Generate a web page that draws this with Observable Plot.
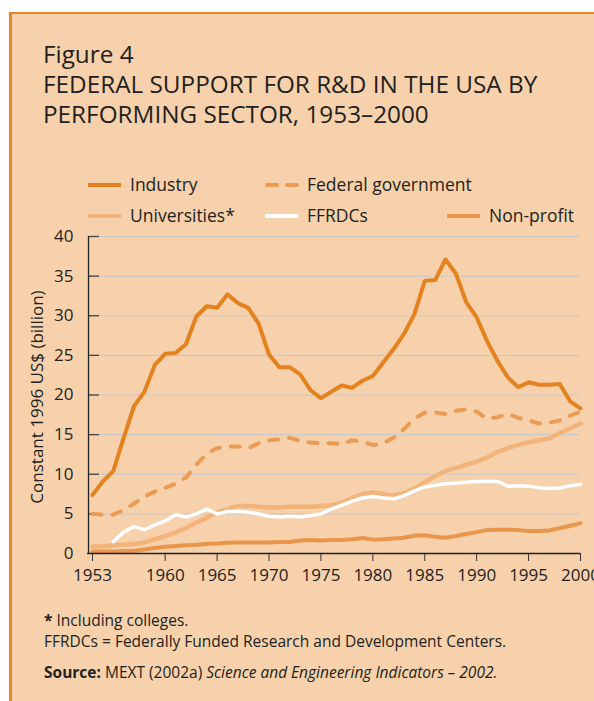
<!DOCTYPE html>
<html><head><meta charset="utf-8">
<script src="https://cdn.jsdelivr.net/npm/d3@7"></script>
<script src="https://cdn.jsdelivr.net/npm/@observablehq/plot@0.6"></script>
<style>
html,body{margin:0;padding:0;background:#fff;}
body{width:594px;height:701px;position:relative;overflow:hidden;font-family:"Open Sans",sans-serif;color:#231f20;}
#panel{position:absolute;left:9px;top:12px;right:0;bottom:0;background:#f6d1ab;border-left:3px solid #e8852b;border-top:2px solid #e8852b;}
.t{position:absolute;white-space:nowrap;}
#chart{position:absolute;left:0;top:226px;}
#ylab{position:absolute;left:36px;top:397px;transform:translate(-50%,-50%) rotate(-90deg);font-size:17px;white-space:nowrap;}
.lg{position:absolute;font-size:17.5px;line-height:20px;white-space:nowrap;}
.sw{position:absolute;overflow:visible;}
</style></head><body>
<div id="panel"></div>
<div class="t" style="left:43px;top:39px;font-size:24.3px;line-height:30px;">Figure 4<br>FEDERAL SUPPORT FOR R&amp;D IN THE USA BY<br>PERFORMING SECTOR, 1953–2000</div>
<div id="legend"></div>
<div id="ylab">Constant 1996 US$ (billion)</div>
<div id="chart"></div>
<div class="t" style="left:44px;top:610px;font-size:15.5px;line-height:21px;"><b>*</b> Including colleges.<br>FFRDCs = Federally Funded Research and Development Centers.</div>
<div class="t" style="left:44px;top:662px;font-size:15.5px;line-height:21px;"><b>Source:</b> MEXT (2002a) <i>Science and Engineering Indicators – 2002.</i></div>
<script>
const years = d3.range(1953, 2001);
const industry = [7.4,9.1,10.4,14.6,18.6,20.4,23.8,25.2,25.3,26.4,29.9,31.2,31.0,32.7,31.6,31.0,29.0,25.1,23.5,23.5,22.6,20.6,19.6,20.4,21.2,20.9,21.8,22.4,24.1,25.8,27.7,30.2,34.4,34.5,37.1,35.3,31.7,29.8,26.8,24.3,22.2,21.0,21.6,21.3,21.3,21.4,19.2,18.3];
const federalGov = [5.0,4.9,4.9,5.5,6.3,7.2,7.8,8.3,8.8,9.6,11.2,12.6,13.3,13.5,13.5,13.3,13.9,14.3,14.4,14.6,14.2,14.0,13.9,13.9,13.8,14.3,14.1,13.7,13.9,14.6,15.7,17.0,17.8,17.8,17.6,18.0,18.2,17.9,17.0,17.2,17.6,17.1,16.8,16.4,16.5,16.8,17.4,17.9];
const universities = [0.85,0.9,1.0,1.1,1.2,1.4,1.8,2.2,2.65,3.2,3.9,4.5,5.2,5.6,6.0,6.0,5.9,5.8,5.8,5.9,5.9,5.9,6.0,6.1,6.4,7.0,7.5,7.7,7.5,7.3,7.6,8.2,9.0,9.8,10.4,10.8,11.2,11.6,12.1,12.8,13.3,13.7,14.0,14.3,14.5,15.2,15.8,16.4];
const ffrdcs = [null,null,1.5,2.7,3.4,3.0,3.6,4.1,4.9,4.6,5.0,5.6,5.0,5.3,5.3,5.2,5.0,4.7,4.6,4.7,4.6,4.8,5.0,5.6,6.1,6.6,7.0,7.2,7.0,6.9,7.3,7.9,8.4,8.6,8.8,8.9,9.0,9.1,9.1,9.1,8.5,8.55,8.5,8.3,8.2,8.25,8.55,8.7];
const nonProfit = [0.25,0.25,0.25,0.3,0.35,0.5,0.7,0.85,0.95,1.05,1.1,1.2,1.25,1.35,1.4,1.4,1.4,1.4,1.45,1.45,1.65,1.7,1.65,1.7,1.7,1.8,1.95,1.75,1.8,1.9,2.0,2.25,2.3,2.1,2.0,2.2,2.45,2.7,2.95,3.0,3.0,2.95,2.85,2.85,2.9,3.2,3.5,3.8];
const xTicks = [1953,1960,1965,1970,1975,1980,1985,1990,1995,2000];
const yTicks = [0,5,10,15,20,25,30,35,40];

const series = [
  {name:"Universities*", values: universities, color:"#f3b47c", width:4.5, dash:null},
  {name:"FFRDCs", values: ffrdcs, color:"#ffffff", width:3.5, dash:null},
  {name:"Non-profit", values: nonProfit, color:"#e9954a", width:4, dash:null},
  {name:"Federal government", values: federalGov, color:"#ec9b54", width:4, dash:"9,11"},
  {name:"Industry", values: industry, color:"#e3821f", width:4, dash:null}
];
const rows = s => years.map((y,i)=>({year:y, value:s.values[i]}));

const lineMarks = series.map(s => Plot.line(rows(s), {
  x:"year", y:"value", stroke:s.color, strokeWidth:s.width,
  strokeDasharray:s.dash, strokeLinecap:"round", strokeLinejoin:"round",
  defined: d => d.value != null
}));

const chart = Plot.plot({
  width:594, height:370,
  marginTop:10, marginBottom:43, marginLeft:92, marginRight:14,
  style:{background:"transparent", color:"#231f20", fontFamily:'"Open Sans", sans-serif', overflow:"visible"},
  x:{domain:[1953,2000]},
  y:{domain:[0,40]},
  marks:[
    Plot.ruleY(yTicks.filter(d=>d>0), {stroke:"#c9c9cc", strokeWidth:1.2, insetLeft:-4}),
    Plot.ruleY(yTicks.filter(d=>d>0), {stroke:"#444", strokeWidth:1.3, insetLeft:-4, insetRight:481}),
    Plot.axisY({ticks:yTicks, tickSize:0, tickPadding:19, label:null, fontSize:17}),
    Plot.axisX({ticks:xTicks, tickSize:8, tickPadding:7, tickFormat:"d", label:null, fontSize:17, stroke:"#333"}),
    ...lineMarks,
    Plot.ruleX([1953], {dx:-4, stroke:"#222", strokeWidth:1.3}),
    Plot.ruleY([0], {stroke:"#222", strokeWidth:1.3, insetLeft:-5})
  ]
});
document.getElementById("chart").appendChild(chart);

// legend
const legendItems = [
  {name:"Industry", x:88, y:185},
  {name:"Federal government", x:265, y:185},
  {name:"Universities*", x:88, y:215.5},
  {name:"FFRDCs", x:265, y:215.5},
  {name:"Non-profit", x:447, y:215.5}
];
const lg = document.getElementById("legend");
legendItems.forEach(it => {
  const s = series.find(d => d.name === it.name);
  const sw = document.createElementNS("http://www.w3.org/2000/svg","svg");
  sw.setAttribute("class","sw");
  sw.setAttribute("width", 34); sw.setAttribute("height", 10);
  sw.style.left = it.x + "px"; sw.style.top = (it.y-5) + "px";
  const ln = document.createElementNS("http://www.w3.org/2000/svg","line");
  ln.setAttribute("x1", s.dash ? 2 : 0); ln.setAttribute("x2", s.dash ? 32 : 33);
  ln.setAttribute("y1",5); ln.setAttribute("y2",5);
  ln.setAttribute("stroke", s.color); ln.setAttribute("stroke-width", 4);
  if (s.dash) { ln.setAttribute("stroke-dasharray","10,10"); ln.setAttribute("stroke-linecap","round"); }
  sw.appendChild(ln);
  lg.appendChild(sw);
  const tx = document.createElement("div");
  tx.className = "lg";
  tx.textContent = it.name;
  tx.style.left = (it.x + 42) + "px";
  tx.style.top = (it.y - 11) + "px";
  lg.appendChild(tx);
});
</script>
</body></html>
